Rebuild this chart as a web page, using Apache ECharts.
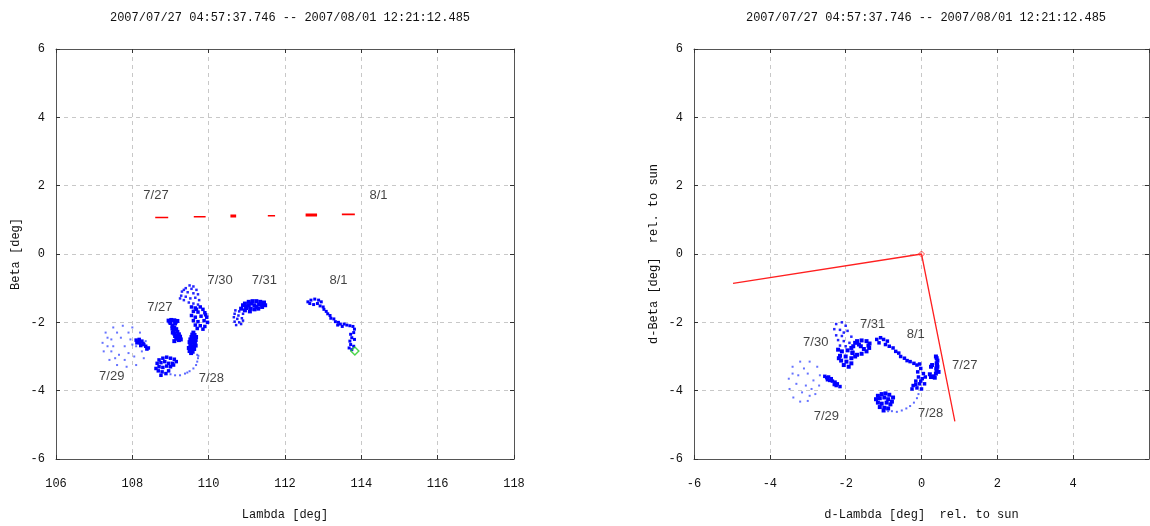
<!DOCTYPE html>
<html><head><meta charset="utf-8">
<script src="https://cdn.jsdelivr.net/npm/echarts@6/dist/echarts.min.js"></script>
<style>html,body{margin:0;padding:0;background:#fff}#c{width:1150px;height:526px}</style>
</head><body><div id="c"></div>
<script>
// ---------- text ----------
const titleText = '2007/07/27 04:57:37.746 -- 2007/08/01 12:21:12.485';
const leftXName = 'Lambda [deg]';
const leftYName = 'Beta [deg]';
const rightXName = 'd-Lambda [deg]  rel. to sun';
const rightYName = 'd-Beta [deg]  rel. to sun';
const leftXRange = [106, 118];
const rightXRange = [-6, 6];
const yRange = [-6, 6];
const tickStep = 2;

// ---------- left panel data (Lambda, Beta) ----------
// red dashes: [lambdaStart, lambdaEnd, beta, thickness flag]
const redDashes = [
  [108.60, 108.94, 1.07, 0], [109.61, 109.92, 1.09, 0], [110.57, 110.72, 1.11, 1],
  [111.55, 111.74, 1.12, 0], [112.54, 112.84, 1.14, 1], [113.49, 113.83, 1.16, 0]
];
const leftLabels = [
  ['7/27', 108.62, 1.70], ['8/1', 114.45, 1.70],
  ['7/30', 110.30, -0.78], ['7/31', 111.46, -0.76], ['8/1', 113.40, -0.76],
  ['7/27', 108.72, -1.56], ['7/29', 107.46, -3.58], ['7/28', 110.07, -3.63]
];
const L_729_loop = [[107.3,-2.3],[107.5,-2.15],[107.75,-2.1],[108.0,-2.15],[108.2,-2.3],[108.35,-2.55],[108.4,-2.8],[108.3,-3.05],[108.1,-3.25],[107.85,-3.3],[107.6,-3.25],[107.4,-3.1],[107.25,-2.85],[107.22,-2.6],[107.45,-2.5],[107.7,-2.45],[107.95,-2.5],[108.1,-2.7],[107.9,-2.9],[107.65,-2.95],[107.45,-2.85],[107.35,-2.7],[107.5,-2.7],[107.8,-2.7],[108.0,-2.65],[107.6,-2.3],[107.9,-2.3],[107.35,-2.45],[107.55,-3.05],[107.8,-3.1],[108.05,-3.0],[108.25,-2.85]];
const L_729_blob = [[108.1,-2.52],[108.18,-2.5],[108.25,-2.55],[108.2,-2.6],[108.3,-2.65],[108.35,-2.7],[108.42,-2.75],[108.15,-2.58],[108.28,-2.62],[108.38,-2.78],[108.12,-2.6],[108.22,-2.68]];
const L_727 = [[108.95,-1.95],[109.02,-1.93],[109.1,-1.94],[109.18,-1.96],[109.0,-2.02],[109.12,-2.03],[109.05,-2.1],[109.1,-2.15],[109.15,-2.2],[109.08,-2.25],[109.18,-2.28],[109.1,-2.33],[109.22,-2.35],[109.12,-2.4],[109.25,-2.42],[109.15,-2.48],[109.22,-2.52],[109.1,-2.55],[109.27,-2.5],[109.05,-2.18],[108.98,-1.98],[109.14,-1.98],[109.06,-2.3],[109.2,-2.45]];
const L_728_dense = [[109.6,-2.3],[109.57,-2.36],[109.63,-2.37],[109.55,-2.43],[109.62,-2.45],[109.67,-2.43],[109.52,-2.5],[109.6,-2.52],[109.66,-2.52],[109.5,-2.58],[109.57,-2.6],[109.64,-2.62],[109.52,-2.68],[109.6,-2.7],[109.55,-2.76],[109.62,-2.78],[109.5,-2.84],[109.58,-2.86],[109.54,-2.9],[109.66,-2.68],[109.48,-2.75]];
const L_728_tail = [[109.7,-2.95],[109.72,-3.05],[109.7,-3.15],[109.67,-3.25],[109.6,-3.35],[109.5,-3.43],[109.38,-3.5],[109.25,-3.55],[109.12,-3.55],[109.0,-3.52],[109.73,-2.98],[109.44,-3.47]];
const L_728_blob = [[108.7,-3.1],[108.8,-3.05],[108.9,-3.02],[109.0,-3.05],[109.1,-3.08],[109.15,-3.15],[108.65,-3.2],[108.75,-3.18],[108.85,-3.15],[108.95,-3.2],[109.05,-3.2],[108.7,-3.3],[108.8,-3.32],[108.9,-3.28],[109.0,-3.3],[108.68,-3.42],[108.78,-3.45],[108.88,-3.5],[108.75,-3.55],[108.95,-3.42],[109.08,-3.25],[108.62,-3.35]];
const L_730_upper = [[109.5,-0.92],[109.6,-0.95],[109.4,-1.0],[109.55,-1.02],[109.68,-1.05],[109.3,-1.1],[109.45,-1.12],[109.6,-1.15],[109.72,-1.18],[109.28,-1.22],[109.4,-1.25],[109.52,-1.3],[109.65,-1.28],[109.75,-1.35],[109.35,-1.35],[109.48,-1.42],[109.6,-1.45],[109.72,-1.48],[109.35,-1.05],[109.25,-1.3]];
const L_730_lower = [[109.55,-1.55],[109.65,-1.58],[109.78,-1.55],[109.85,-1.62],[109.6,-1.68],[109.72,-1.7],[109.9,-1.72],[109.55,-1.8],[109.65,-1.85],[109.8,-1.82],[109.95,-1.85],[109.6,-1.95],[109.72,-1.98],[109.88,-1.95],[109.97,-2.0],[109.65,-2.08],[109.78,-2.1],[109.9,-2.12],[109.7,-2.18],[109.85,-2.2],[109.92,-1.78],[109.68,-1.62]];
const L_731 = [[110.95,-1.45],[111.05,-1.4],[111.15,-1.38],[111.25,-1.38],[111.35,-1.4],[111.45,-1.42],[111.48,-1.5],[111.4,-1.55],[111.3,-1.6],[111.2,-1.62],[111.1,-1.6],[111.0,-1.55],[110.9,-1.5],[111.05,-1.5],[111.2,-1.5],[111.32,-1.48],[111.12,-1.45],[111.25,-1.55],[110.85,-1.6],[110.95,-1.65],[111.08,-1.68],[111.4,-1.46],[110.98,-1.58]];
const L_731_low = [[110.7,-1.65],[110.8,-1.68],[110.68,-1.75],[110.78,-1.8],[110.9,-1.75],[110.66,-1.85],[110.75,-1.9],[110.87,-1.88],[110.68,-1.98],[110.8,-2.0],[110.72,-2.08],[110.85,-2.05],[110.9,-1.95]];
const L_81 = [[112.6,-1.4],[112.68,-1.35],[112.78,-1.32],[112.88,-1.35],[112.95,-1.4],[112.65,-1.45],[112.75,-1.48],[112.85,-1.45],[112.92,-1.52],[113.0,-1.55],[113.02,-1.62],[113.08,-1.68],[113.12,-1.75],[113.18,-1.8],[113.2,-1.88],[113.28,-1.9],[113.32,-1.98],[113.4,-2.0],[113.45,-2.05],[113.38,-2.08],[113.5,-2.12],[113.55,-2.05],[113.62,-2.08],[113.7,-2.1],[113.78,-2.12],[113.82,-2.2],[113.8,-2.3],[113.72,-2.35],[113.75,-2.45],[113.82,-2.5],[113.7,-2.55],[113.72,-2.65],[113.8,-2.7],[113.68,-2.75],[113.75,-2.8]];
const L_end = [[113.83, -2.84]];

// ---------- right panel data (d-Lambda, d-Beta rel. to sun) ----------
const sunLine = [[-4.97, -0.86], [0, 0], [0.88, -4.9]];
const sunPoint = [[0, 0]];
const rightLabels = [
  ['7/31', -1.29, -2.05], ['8/1', -0.15, -2.36], ['7/30', -2.79, -2.6],
  ['7/27', 1.14, -3.25], ['7/29', -2.51, -4.74], ['7/28', 0.24, -4.66]
];
const R_729_loop = [[-3.4,-3.3],[-3.2,-3.15],[-2.95,-3.15],[-2.75,-3.3],[-2.68,-3.55],[-2.7,-3.85],[-2.8,-4.1],[-3.0,-4.3],[-3.2,-4.32],[-3.38,-4.2],[-3.48,-3.95],[-3.5,-3.65],[-3.25,-3.55],[-3.0,-3.5],[-2.85,-3.7],[-3.05,-3.85],[-3.3,-3.8],[-3.15,-4.05],[-2.9,-3.95],[-3.1,-3.35],[-3.4,-3.5],[-2.95,-4.15]];
const R_729_blob = [[-2.55,-3.58],[-2.45,-3.6],[-2.38,-3.65],[-2.48,-3.68],[-2.35,-3.72],[-2.28,-3.75],[-2.22,-3.8],[-2.3,-3.82],[-2.15,-3.88],[-2.42,-3.7],[-2.5,-3.62],[-2.25,-3.85]];
const R_730_sparse = [[-2.25,-2.05],[-2.1,-2.0],[-2.0,-2.1],[-2.3,-2.2],[-2.15,-2.22],[-1.95,-2.25],[-2.25,-2.38],[-2.1,-2.4],[-1.85,-2.42],[-2.2,-2.52],[-2.05,-2.55],[-1.9,-2.6],[-2.15,-2.68],[-2.0,-2.7],[-2.05,-2.3]];
const R_730_dense = [[-2.2,-2.8],[-2.1,-2.85],[-1.95,-2.82],[-1.82,-2.9],[-2.15,-2.98],[-2.0,-3.0],[-1.85,-3.05],[-1.75,-3.0],[-2.12,-3.12],[-1.98,-3.15],[-1.85,-3.2],[-2.05,-3.25],[-1.92,-3.3],[-2.18,-3.05],[-1.8,-2.7],[-1.7,-2.55],[-1.58,-2.53],[-1.45,-2.55],[-1.37,-2.62],[-1.38,-2.75],[-1.45,-2.85],[-1.58,-2.92],[-1.7,-2.95],[-1.82,-2.88],[-1.85,-2.75],[-1.6,-2.7],[-1.52,-2.78],[-1.65,-2.65],[-1.75,-2.6],[-1.4,-2.68]];
const R_81 = [[-1.18,-2.5],[-1.08,-2.45],[-1.0,-2.5],[-0.9,-2.55],[-1.12,-2.6],[-0.95,-2.65],[-0.85,-2.7],[-0.75,-2.75],[-0.68,-2.85],[-0.6,-2.9],[-0.55,-3.0],[-0.45,-3.05],[-0.38,-3.12],[-0.3,-3.15],[-0.2,-3.2],[-0.12,-3.25],[-0.05,-3.22],[-0.02,-3.35],[-0.1,-3.45],[0.05,-3.5],[-0.08,-3.6],[0.02,-3.65],[-0.15,-3.72],[-0.05,-3.8],[0.08,-3.8],[-0.22,-3.85],[-0.12,-3.92],[0.0,-3.95],[-0.25,-3.95],[0.1,-3.6],[-0.02,-3.72],[-0.15,-3.82]];
const R_727 = [[0.38,-3.0],[0.4,-3.05],[0.42,-3.12],[0.4,-3.2],[0.42,-3.3],[0.4,-3.4],[0.38,-3.5],[0.32,-3.58],[0.25,-3.6],[0.22,-3.52],[0.25,-3.3],[0.28,-3.25],[0.45,-3.45],[0.35,-3.62],[0.41,-3.25],[0.39,-3.35]];
const R_728_blob = [[-1.15,-4.15],[-1.05,-4.1],[-0.95,-4.08],[-0.85,-4.12],[-0.75,-4.2],[-1.2,-4.25],[-1.1,-4.22],[-0.98,-4.2],[-0.88,-4.25],[-0.78,-4.32],[-1.15,-4.35],[-1.05,-4.38],[-0.92,-4.35],[-0.82,-4.4],[-1.1,-4.48],[-0.98,-4.5],[-0.88,-4.52],[-1.0,-4.58]];
const R_728_tail = [[-0.78,-4.6],[-0.65,-4.62],[-0.52,-4.58],[-0.4,-4.52],[-0.3,-4.45],[-0.2,-4.35],[-0.12,-4.22],[-0.08,-4.1],[-0.88,-4.6]];

// ---------- build ----------
const MONO = '"Liberation Mono","DejaVu Sans Mono",monospace';
const SANS = '"Liberation Sans",Arial,sans-serif';
const BLUE = '#0000ff';
const grids = [
  {left: 56, top: 49, width: 458, height: 417},
  {left: 694, top: 49, width: 455, height: 417}
];
function xAxes(gi, range, name) {
  const base = {gridIndex: gi, type: 'value', min: range[0], max: range[1], interval: tickStep,
    axisLine: {show: true, onZero: false, lineStyle: {color: '#555', width: 1}},
    axisTick: {show: true, inside: true, length: 4, lineStyle: {color: '#333'}}};
  return [
    Object.assign({}, base, {position: 'bottom', name: name, nameLocation: 'middle', nameGap: 50,
      nameTextStyle: {fontFamily: MONO, fontSize: 12, color: '#111'},
      axisLabel: {fontFamily: MONO, fontSize: 12, color: '#111', margin: 19, showMaxLabel: gi === 0},
      splitLine: {show: true, lineStyle: {color: '#c8c8c8', type: [4, 4]}}}),
    Object.assign({}, base, {position: 'top', axisLabel: {show: false}, splitLine: {show: false}})
  ];
}
function yAxes(gi, name) {
  const base = {gridIndex: gi, type: 'value', min: yRange[0], max: yRange[1], interval: tickStep,
    axisLine: {show: true, onZero: false, lineStyle: {color: '#555', width: 1}},
    axisTick: {show: true, inside: true, length: 4, lineStyle: {color: '#333'}}};
  return [
    Object.assign({}, base, {position: 'left', name: name, nameLocation: 'middle', nameGap: 34,
      nameTextStyle: {fontFamily: MONO, fontSize: 12, color: '#111'},
      axisLabel: {fontFamily: MONO, fontSize: 12, color: '#111', margin: 11},
      splitLine: {show: true, lineStyle: {color: '#c8c8c8', type: [4, 4]}}}),
    Object.assign({}, base, {position: 'right', axisLabel: {show: false}, splitLine: {show: false}})
  ];
}
const xAxis = [...xAxes(0, leftXRange, leftXName), ...xAxes(1, rightXRange, rightXName)];
const yAxis = [...yAxes(0, leftYName), ...yAxes(1, rightYName)];

function dots(xi, yi, data, size, color, opacity) {
  return {type: 'scatter', xAxisIndex: xi, yAxisIndex: yi, data: data, symbol: 'rect',
    symbolSize: size, itemStyle: {color: color, opacity: opacity}, silent: true, animation: false, z: 3};
}
function labels(xi, yi, arr) {
  return {type: 'scatter', xAxisIndex: xi, yAxisIndex: yi, symbolSize: 0, silent: true, animation: false,
    data: arr.map(a => ({name: a[0], value: [a[1], a[2]]})),
    label: {show: true, position: 'inside', formatter: '{b}', fontFamily: SANS, fontSize: 13, color: '#111'}, z: 5};
}
const series = [];
redDashes.forEach(d => series.push({type: 'line', xAxisIndex: 0, yAxisIndex: 0, data: [[d[0], d[2]], [d[1], d[2]]],
  symbol: 'none', lineStyle: {color: '#ff0000', width: d[3] ? 3 : 1.6}, silent: true, animation: false}));
series.push(labels(0, 0, leftLabels));
series.push(dots(0, 0, L_729_loop, 2, '#3344ff', 0.75));
series.push(dots(0, 0, L_729_blob, 3.5, BLUE, 1));
series.push(dots(0, 0, L_727, 4, BLUE, 1));
series.push(dots(0, 0, L_728_dense, 4, BLUE, 1));
series.push(dots(0, 0, L_728_tail, 2, '#3344ff', 0.8));
series.push(dots(0, 0, L_728_blob, 3.5, BLUE, 1));
series.push(dots(0, 0, L_730_upper, 2.5, BLUE, 0.85));
series.push(dots(0, 0, L_730_lower, 3.5, BLUE, 1));
series.push(dots(0, 0, L_731, 4, BLUE, 1));
series.push(dots(0, 0, L_731_low, 2.5, BLUE, 0.9));
series.push(dots(0, 0, L_81, 3, BLUE, 1));
series.push({type: 'scatter', xAxisIndex: 0, yAxisIndex: 0, data: L_end, symbol: 'diamond', symbolSize: 8,
  itemStyle: {color: 'rgba(0,0,0,0)', borderColor: '#22cc22', borderWidth: 1.5}, silent: true, animation: false, z: 6});

series.push({type: 'line', xAxisIndex: 2, yAxisIndex: 2, data: sunLine, symbol: 'none',
  lineStyle: {color: '#ff2020', width: 1.3}, silent: true, animation: false});
series.push({type: 'scatter', xAxisIndex: 2, yAxisIndex: 2, data: sunPoint, symbol: 'diamond', symbolSize: 6,
  itemStyle: {color: 'rgba(0,0,0,0)', borderColor: '#ff2020', borderWidth: 1}, silent: true, animation: false});
series.push(labels(2, 2, rightLabels));
series.push(dots(2, 2, R_729_loop, 2, '#3344ff', 0.75));
series.push(dots(2, 2, R_729_blob, 3.5, BLUE, 1));
series.push(dots(2, 2, R_730_sparse, 2.5, BLUE, 0.85));
series.push(dots(2, 2, R_730_dense, 4, BLUE, 1));
series.push(dots(2, 2, R_81, 3.5, BLUE, 1));
series.push(dots(2, 2, R_727, 4, BLUE, 1));
series.push(dots(2, 2, R_728_blob, 4, BLUE, 1));
series.push(dots(2, 2, R_728_tail, 2, '#3344ff', 0.8));

const chart = echarts.init(document.getElementById('c'), null, {renderer: 'canvas'});
chart.setOption({
  backgroundColor: '#ffffff',
  animation: false,
  title: [
    {text: titleText, left: 285, top: 7, textAlign: 'center', textStyle: {fontFamily: MONO, fontSize: 12, fontWeight: 'normal', color: '#111'}},
    {text: titleText, left: 921, top: 7, textAlign: 'center', textStyle: {fontFamily: MONO, fontSize: 12, fontWeight: 'normal', color: '#111'}}
  ],
  grid: grids,
  xAxis: xAxis,
  yAxis: yAxis,
  series: series
});
</script></body></html>
